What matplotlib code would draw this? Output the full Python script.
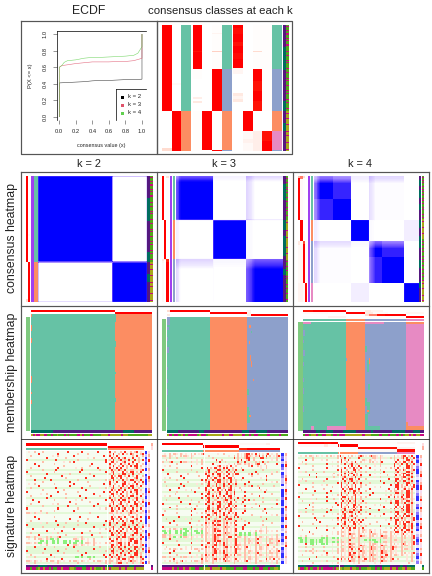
import numpy as np
import matplotlib
matplotlib.use("Agg")
import matplotlib.pyplot as plt
from matplotlib.colors import LinearSegmentedColormap, to_rgb

plt.rcParams["font.family"] = ["Liberation Sans", "DejaVu Sans"]

# ---------- data ----------
ecdf_x = {
    2: [0, 0, .1, .2, .3, .4, .5, .6, .7, .8, .9, .99, 1, 1],
    3: [0, 0, .03, .1, .2, .3, .4, .5, .6, .7, .8, .9, .97, 1, 1],
    4: [0, 0, .03, .06, .1, .2, .3, .4, .5, .6, .7, .8, .9, .95, 1, 1],
}
ecdf_y = {
    2: [0, .41, .415, .42, .425, .435, .44, .44, .445, .45, .45, .455, .455, 1],
    3: [0, .60, .62, .63, .645, .655, .665, .665, .665, .67, .67, .68, .70, .71, 1],
    4: [0, .60, .62, .66, .68, .69, .71, .72, .72, .725, .73, .735, .745, .77, .85, 1],
}
ecdf_labels = ["k = 2", "k = 3", "k = 4"]
ecdf_colors = {2: "#000000", 3: "#DF536B", 4: "#61D04F"}
titles_k = ["k = 2", "k = 3", "k = 4"]
row_titles = ["consensus heatmap", "membership heatmap", "signature heatmap"]

class_colors = {"1": "#66C2A5", "2": "#FC8D62", "3": "#8DA0CB", "4": "#E78AC3"}
anno_colors = {"P": "#54187F", "T": "#006D5F", "G": "#4FA81A", "O": "#A8A81A", "M": "#C8087F"}
sig_colors = {".": "#F6FCF1", ":": "#E3F8D6", "s": "#FFBFAA", "r": "#FF3020", "g": "#8CF07C", "p": "#FFE4D9",
              "B": "#3030FF", "b": "#8C78FF", "l": "#C8BEFF", "w": "#ECE8FF",
              "R": "#FF2A1A", "S": "#FFB0A0", "K": "#FFDCE0", "Y": "#F6DCF0", "W": "#FFFFFF"}

# class probabilities per sample, as (value, count) runs, top panel
top_k2 = [
    [(1, 86), (0, 37), (.3, 3)],
    [(0, 58), (.05, 2), (0, 26), (1, 40)],
]
top_k3 = [
    [(1, 26), (.85, 1), (1, 17), (.03, 10), (0, 18), (.15, 2), (0, 2), (.2, 2), (0, 8), (.02, 40)],
    [(0, 86), (1, 39), (0, 1)],
    [(.02, 8), (.1, 1), (.02, 17), (.35, 1), (.02, 17), (1, 42), (.02, 39), (1, 1)],
]
top_k4 = [
    [(1, 3), (.9, 6), (1, 8), (.85, 4), (1, 8), (.9, 6), (1, 9), (.08, 6), (0, 20), (.2, 3), (.1, 3), (.2, 3), (0, 10), (0, 40)],
    [(0, 86), (1, 20), (.06, 8), (.12, 4), (.05, 8)],
    [(.02, 26), (.3, 1), (.02, 17), (1, 12), (.85, 10), (1, 10), (.85, 10), (0, 20), (.15, 20)],
    [(.03, 44), (.03, 42), (0, 20), (.85, 10), (1, 10)],
]
cls_top_k2 = [("1", 86), ("2", 40)]
cls_top_k3 = [("1", 44), ("3", 42), ("2", 39), ("3", 1)]
cls_top_k4 = [("1", 44), ("3", 42), ("2", 20), ("4", 19), ("3", 1)]

anno_a_k2 = [("P", 22), ("T", 23), ("P", 31), ("T", 10), ("P", 12), ("T", 8), ("P", 20)]
anno_a_k3 = [("P", 8), ("T", 16), ("P", 20), ("T", 10), ("P", 6), ("T", 20), ("P", 13), ("T", 6), ("P", 27)]
anno_a_k4 = [("P", 4), ("T", 6), ("P", 4), ("T", 8), ("P", 6), ("T", 6), ("P", 10), ("T", 8), ("P", 8), ("T", 12),
             ("P", 12), ("T", 8), ("P", 14), ("T", 6), ("P", 14)]
anno_b_k2 = ("GMGGGMGGMMGGGMGMGGGMMGGGGGMGGGMGGGGMGMGGGGGMGGGMGGGGGMGMGGGGMGGGGMGGMGGGGGMGGMGGGGGMGG"
             "OOMOOOOMOOOOOMOOOOOOMOOOMOOOOOOMOOOOOOMO")
anno_b_k3 = ("GGMGGGMGGGGMGMGGMGGGGMGGGMGGGGGMGGMGGGGMGGGG"
             "OOMOOOOOOOMOOOOOOMOOOOOOOOMOOOOOMOOOOOO"
             "GMGGGGMGGGMGGGGGMGMGGGGGMGGGMGGGGMGGGGGMGG")
anno_b_k4 = ("GMGGMGMGGGMGGMGMGGMGGGGMGMGGMGGGMGMGGGGMGGMG"
             "OOMOOOOOMOOOOOMOOOOOO"
             "GGMGGMGGGMGGMGGGGMGGMGMGGGMGGGMGGGMGGMGGGMG"
             "OOMOOOOMOOOOOOMOOOOMO")

# consensus: group sizes, purity per sample, cross-group links
cons_k2_purity = [[(.82, 1), (1, 84), (.65, 1)], [(.7, 1), (1, 38), (.9, 1)]]
cons_k3_purity = [[(.6, 1), (.65, 1), (.72, 1), (.8, 1), (.9, 1), (.96, 1), (1, 37), (.8, 1)],
                  [(.78, 1), (1, 37), (.85, 1)],
                  [(.55, 1), (.58, 1), (.62, 1), (.66, 1), (.7, 1), (.74, 1), (.78, 1), (.84, 1), (.9, 1), (.96, 1), (1, 33)]]
cons_k4_purity = [[(.45, 1), (.5, 1), (.52, 1), (.6, 1), (.68, 1), (.78, 1), (.88, 1), (1, 37)],
                  [(.95, 1), (1, 19), (.95, 1)],
                  [(.5, 1), (.55, 1), (.6, 1), (.66, 1), (.72, 1), (.8, 1), (.88, 1), (1, 35)],
                  [(.9, 1), (1, 18)]]
cons_k2_links = [[0, 1.2], [1.2, 0]]
cons_k3_links = [[0, .12, .32], [.12, 0, .07], [.32, .07, 0]]
cons_k4_links = [[0, .12, .22, 0], [.12, 0, .05, 0], [.22, .05, 0, 0], [0, 0, 0, 0]]
cons_k4_const = [[0, 0, .012, 0], [0, 0, 0, .06], [.012, 0, 0, 0], [0, .06, 0, 0]]
cons_k4_sub = [[(0, 23), (1, 21)], [(0, 21)], [(0, 16), (1, 26)], [(0, 19)]]
cons_k4_subcross = [.8, 1, .82, 1]

# left annotation columns of the consensus row
cons_left_k2 = top_k2
cons_left_k3 = [
    [(1, 44), (0, 39), (.2, 2), (.1, 2), (.05, 39)],
    [(0, 44), (1, 39), (.25, 1), (0, 42)],
    [(.25, 2), (.02, 42), (0, 39), (.7, 3), (1, 40)],
]
cons_left_k4 = [
    [(.4, 2), (1, 42), (0, 21), (.2, 4), (.05, 38), (.1, 19)],
    [(.5, 3), (.05, 41), (1, 21), (.1, 42), (.12, 19)],
    [(.3, 2), (.02, 42), (0, 21), (.6, 3), (1, 39), (.05, 19)],
    [(0, 44), (0, 21), (.04, 42), (1, 19)],
]

# membership: class runs by column, then patches (row0, row1, col0, col1, class)
mem_k2_cols = [("1", 84), ("2", 37)]
mem_k2_rows = 117
mem_k2_patches = [(0, 3, 0, 1, "2"), (11, 17, 0, 1, "2"), (24, 29, 0, 1, "2"), (62, 69, 0, 1, "2"), (78, 80, 0, 1, "2"),
                  (86, 90, 0, 1, "2"), (27, 33, 84, 85, "1"), (58, 60, 84, 85, "1"), (84, 88, 84, 85, "1"), (0, 8, 84, 85, "1")]
mem_k3_cols = [("1", 43), ("2", 37), ("3", 41)]
mem_k3_rows = 114
mem_k3_patches = [(0, 8, 0, 3, "3"), (10, 13, 0, 2, "3"), (20, 24, 0, 1, "3"), (30, 36, 0, 2, "3"), (50, 53, 0, 1, "3"),
                  (62, 66, 0, 1, "3"), (72, 78, 0, 1, "3"), (90, 94, 0, 1, "3"),
                  (8, 11, 82, 84, "2"), (24, 27, 82, 83, "2"), (38, 44, 83, 84, "2"), (44, 50, 84, 85, "2"), (62, 64, 86, 87, "2"),
                  (72, 78, 80, 82, "1"), (90, 106, 80, 82, "1"), (94, 106, 82, 83, "1"), (14, 16, 84, 85, "1"), (98, 100, 82, 84, "2")]
mem_k4_cols = [("1", 43), ("2", 19), ("3", 41), ("4", 18)]
mem_k4_rows = 109
mem_k4_patches = [(0, 2, 0, 8, "4"), (0, 2, 62, 81, "4"), (0, 2, 103, 121, "2"), (104, 109, 24, 43, "4"), (104, 108, 8, 11, "4"),
                  (104, 109, 62, 77, "1"), (104, 109, 103, 121, "2"), (100, 104, 103, 105, "2"),
                  (8, 14, 0, 2, "3"), (18, 21, 0, 1, "3"), (28, 34, 0, 2, "3"), (40, 44, 0, 1, "3"), (56, 60, 0, 1, "3"),
                  (66, 72, 0, 1, "3"), (84, 90, 0, 1, "3"), (36, 39, 43, 44, "3"), (86, 88, 43, 44, "3"),
                  (24, 30, 62, 64, "1"), (38, 50, 64, 66, "1"), (62, 68, 65, 67, "1"), (76, 84, 62, 64, "1"), (80, 92, 64, 67, "1"),
                  (92, 104, 62, 65, "1"), (36, 42, 66, 67, "2"), (88, 90, 64, 66, "2")]
mem_top_k2 = [[(1, 84), (0, 37)], [(0, 84), (1, 37)]]
mem_top_k3 = [[(.3, 3), (1, 40), (0, 37), (.12, 4), (0, 37)],
              [(0, 43), (1, 37), (.15, 4), (0, 37)],
              [(.2, 3), (0, 40), (0, 37), (.2, 4), (1, 37)]]
mem_top_k4 = [[(.85, 10), (1, 33), (0, 19), (.2, 6), (.1, 12), (0, 23), (.02, 18)],
              [(.05, 25), (.02, 18), (1, 19), (.2, 8), (.05, 15), (0, 18), (.08, 18)],
              [(0, 43), (0, 19), (.3, 4), (.5, 8), (.85, 8), (1, 21), (0, 18)],
              [(.03, 25), (.12, 18), (0, 19), (.02, 41), (1, 18)]]
mem_anno_a_k2 = "TTTTTTTTTTTTPPPPPPPPPPPPPPPPPPPPPPPPPPPPPPPPPPPPPPTTTTTTPPPPPPPPPP"
mem_anno_b_k2 = "OMOMMOOMMGGMGGOGGGMGMGGGGMMOMGGGMMGGGGOOOOMOOOOOOMOOOGGGGGGGGGGGOO"
mem_anno_a_k3 = "TTTTTPPPPPPPPPTTPPPPPPPPPPPPPPPPPTTTPPPTTTTTPPPPPPPPP"
mem_anno_b_k3 = "OMGMMGOMGMMMMGOMMGOOOOOOMOOMMOOOOMGGMGMMGGGGMGGGGMGGG"
mem_anno_a_k4 = "PPPPPPTTPPPTTTPPPPPTTTTTTPPPPPPPTPPPPPPPPPTTTTTTPPPPTTTPP"
mem_anno_b_k4 = "GMMGOOMGGMMOOGMMGMMMOOOOOOOOMOOOGGGGMGGGMGGGMGMGOOMOMOOMM"

# signature heatmaps: each row is read as ten blocks, each block a cell pattern
# ("_" lets the row background show)
sig_blocks = {
    "0": "______", "1": "__s___", "2": "____r_", "3": "r_____", "4": "_p__s_", "5": "___r__",
    "6": "_s____", "7": "p____r", "8": "r__s__", "9": "_r_s_r", "a": "s_r__s", "b": "_sr_p_",
    "c": "r_s_r_", "d": "_rr_s_", "e": "s_p_sr", "f": "ssp_sp", "g": "_gg_g_", "h": "gg_pg_",
}
sig_k2_plan = [
    "4105203 8ab", "0320160 a9e", "1040305 c0a", "0201040 9b8", "3050102 ac9", "0104302 db8", "2010050 8ca",
    "0306010 a9d", "1020403 c8b", "0150206 9ae", "3010502 b9c", "0204010 ad8", "1003020 9ca", "0501030 d8b",
    "2030104 a9c", "0102060 cb9", "4010305 8da", "0302010 a9c", "1050204 bc8", "0106030 9ad", "3020105 c9b",
    "0401020 d8a", "1030506 a9c", "0201030 8cb", "5010402 9da", "0302010 bc9", "1040603 a8d", "0105020 c9a",
    "3020104 9bc", "0610300 d9a", "f400010 fef", "0000000 141", "2010503 9ac", "0302060 d8b", "1050102 a9c",
    "0401030 cb8", "3020105 8da", "0106020 bc9", "5010304 a9d", "0203010 c8a", "1040206 9bd", "0301050 dac",
    "f4e0401 ede", "4fh0f40 cec", "0gggg40 ded", "fhgghf4 ecd", "0405f40 dce", "2010306 9ad", "0501020 ac9",
    "3020104 d9a", "0106030 bcd", "1030205 cad", "4010gg2 9ec", "0203010 ede", "f4f4f4f fef", "4040104 e8e",
]
sig_k2_bg = "....:....:.:..:...:....:...:..:....:::..:.:....::::.:..:"
sig_k3_plan = [
    "4f4e 040 ece4", "f4f0 104 efce", "4140 402 e8d4", "1004 080 a804", "e2f4 0a0 c4a0", "0104 204 fe82", "4020 0ba 0a40",
    "0102 9c8 1040", "3040 bd9 5010", "0106 a8c 0204", "5010 cd9 3a06", "0201 db8 0120", "4030 9cd 5040", "0102 cda 1020",
    "6010 ada 0304", "0204 bc9 2010", "1030 dca 4a01", "0501 8db 6030", "2040 c9d 1040", "0103 abc 2050", "0602 dac 0106",
    "4010 ccd 2030", "0502 d9b 8010", "1040 aec 2804", "0201 dda 5010", "3050 cad 1402", "0106 bd9 2030", "2040 ddc 0106",
    "0103 d9a 4050", "6020 cab 2010", "0104 ec9 5020", "3020 dce 0104", "0502 8ac 3060", "1040 aed 1020", "0301 ede 4010",
    "2050 cfc 0306", "0104 ede 2010", "3020 fef 5040", "4fh4 efe 5040", "hggh ede 04f4", "gghg fef gh40",
    "f4h4 ede gh04", "fhf4 efd f4f4", "2040 efe 4e4f", "0104 ede 4f4e", "3020 dce 4e4f", "0502 ece f4e4",
    "1040 cec e4f1", "4f4f efe f4f4", "0301 ece 4f4e", "2050 ece 4e4f", "0104 cec f4f4", "f4f4 fef 4f4f",
    "0302 ece 4f2a", "4e4f fef e4f4", "0104 404 0404",
]
sig_k3_bg = "..:.:...::...:.::..:..::.:..:...:::..:...:.::.:...:.:..:"
sig_k4_plan = [
    "4f4e 4e ef0 ec", "0104 a2 0f4 e9", "2140 c0 f40 ad", "1004 8a 4e0 9c", "4020 a8 040 c9", "0104 2c 140 8d", "3020 a9 204 ad",
    "0102 8d 040 9e", "4010 ca 103 bd", "0201 a8 040 ec", "0304 c9 201 9d", "0201 ba 040 ec", "1020 9c 105 db", "4010 a8 020 9c",
    "0102 c9 403 ad", "3040 8a 102 d9", "0106 ca 040 de", "2010 9c 205 ac", "0503 ad 104 fd", "1020 c9 030 dd", "0104 8b 204 ed",
    "3020 da 105 cd", "0401 ca 020 ef", "1020 9b 304 dd", "0105 ca 102 dc", "0302 8d 040 ad", "0106 c9 103 9d", "2040 ba 204 cd",
    "0103 a9 050 ed", "4020 9c 104 dd", "0104 ba 203 ac", "3010 a8 040 9d", "0502 db 102 ce", "0204 cc 304 de", "1030 a9 010 9d",
    "0102 bd 405 9c", "3040 ca 120 ac", "0201 9d 304 9c", "1020 e4 f40 cd", "0304 f4 e4f dc", "0104 ef 4f4 e4",
    "4040 fe fef 4e", "h0gg 4f 44f 4e", "ggh4 e4 gh4 f4", "gghg f4 4gf 4e", "2gg4 ef 4f4 ee", "0104 fe fef 4f",
    "4010 ef efe f4", "0104 fc efe 4f", "4f14 fe fef 40", "0124 ed fef 4e", "1040 ef efd f4", "0201 fc fef 04",
    "0302 cf dfe 14", "1040 ef fef 04", "0104 04 040 01",
]
sig_k4_bg = ".:..:...:..:.::....:..:.:...::..:...:.....:::..:.:..:.:."
sig_right_k2 = ["BlBbBlBwBbBBlBBbBlBBlBbBBBlwBbBBlBbBlBwB", "KSYRKYSKYRSKYSRKYKRKYSKRYKSYKRSKKYSRKYKS"]
sig_right_k3 = ["BbBlBbwBbllBwBBBbBBlBBbBBlBlwBbBlwBbBBlB", "SKYSRKYKSRSKYRSKRKYRSKSRYKRKSYRKSRKYKSYK"]
sig_right_k4 = ["BbBlbBBlwBbBBlbBBwbBlbBBlBbBwlbBbwBlbBlb", "SYKRYKSRYKSRRYKSRKYRSKYRKSRYKSYRKYSKRYKS"]
sig_top_k2 = [[(1, 80), (0, 37)], [(0, 80), (1, 37)]]
sig_top_k3 = [[(1, 41), (0, 36), (.05, 27), (.15, 4), (0, 10)],
              [(0, 41), (1, 36), (0, 41)],
              [(0, 41), (0, 36), (.7, 8), (1, 33)]]
sig_top_k4 = [[(1, 26), (.9, 7), (1, 7), (0, 19), (.03, 39), (.1, 18)],
              [(.05, 26), (.2, 4), (.05, 10), (1, 19), (0, 39), (0, 18)],
              [(0, 40), (0, 19), (.85, 39), (.12, 18)],
              [(0, 40), (0, 19), (.05, 39), (.9, 18)]]
sig_anno_a_k2 = "PPPPPPTTTTTPPPPPPPPPPPPPPPTTTTTPPPPPPPPPPTTTTPPPPPPPPTTTPPPPP"
sig_anno_b_k2 = "MMGMMGOMMOMMGMGGMMOMMMGOOGMMMGGMMOMOGGGOMOOMOOOOMOOMOOOOMOOOO"
sig_anno_a_k3 = "PPPPPPPPPPPPPPPPPPPPPTTTPPPPPTTTTTTPPPPPPPPPTTTTTPPPPTTTPPPTT"
sig_anno_b_k3 = "MMMMMOMMGMMOMMOGGMMGGOOOOMOOOOMOOGGGGMGGGGMMGGGMGGMMGGGMGGOOG"
sig_anno_a_k4 = "TTTTPPPPTTTPPPPPTTTTPPPPTTTTTTPPPPPPPTTTPPPPTTTTPPPPPTTPPTTTT"
sig_anno_b_k4 = "OMMGOMGGMMOMGMMMMMGMOOOGOOOMOOGGMGGGOOGGMGGMGOOOMOOMGGOOMOOGG"

# ---------- drawing ----------
def expand(runs):
    out = []
    for v, n in runs:
        out.extend([v] * n)
    return out

fig = plt.figure(figsize=(6, 8), dpi=72)
ov = fig.add_axes([0, 0, 1, 1])
ov.axis("off")
white_red = LinearSegmentedColormap.from_list("wr", ["#FFFFFF", "#FFD9CC", "#FF2A10", "#FF0000"], N=64)
white_blue = LinearSegmentedColormap.from_list(
    "wb", [(0, "#FFFFFF"), (.25, "#C9B5FF"), (.55, "#7A5CFF"), (.85, "#2A1AFF"), (1, "#0000FF")], N=128)

def paint(m, x0, y0, x1, y1, cmap=None, vmin=0, vmax=1):
    ov.imshow(m, extent=(x0, x1, y1, y0), aspect="auto", interpolation="nearest",
              cmap=cmap, vmin=vmin, vmax=vmax, zorder=2)

def rgb(chars, table):
    return np.array([[to_rgb(table[c]) for c in row] for row in chars])

def vstrip(chars, table, x0, y0, x1, y1):
    paint(rgb([[c] for c in chars], table), x0, y0, x1, y1)

def hstrip(chars, table, x0, y0, x1, y1):
    paint(rgb([list(chars)], table), x0, y0, x1, y1)

def vprob(runs, x0, y0, x1, y1):
    paint(np.array(expand(runs), float)[:, None], x0, y0, x1, y1, cmap=white_red)

def hprob(runs, x0, y0, x1, y1):
    paint(np.array(expand(runs), float)[None, :], x0, y0, x1, y1, cmap=white_red)

# ECDF panel
ax = fig.add_axes([56.7 / 432, 1 - 120 / 576, 89 / 432, 89 / 576], zorder=3)
for k in (2, 3, 4):
    ax.plot(ecdf_x[k], ecdf_y[k], color=ecdf_colors[k], lw=.55, alpha=.85 if k > 2 else .75, solid_joinstyle="miter")
ax.set_xlim(-.031, 1.045)
ax.set_ylim(-.04, 1.04)
ax.spines["right"].set_visible(False)
ax.spines["bottom"].set_visible(False)
ax.spines["top"].set_linewidth(.7)
ax.spines["left"].set_linewidth(.7)
ax.set_xticks([0, .2, .4, .6, .8, 1])
ax.set_xticklabels(["0.0", "0.2", "0.4", "0.6", "0.8", "1.0"], fontsize=5.8, color="#222222")
ax.set_yticks([0, .2, .4, .6, .8, 1])
ax.set_yticklabels(["0.0", "0.2", "0.4", "0.6", "0.8", "1.0"], fontsize=5.8, rotation=90, va="center", color="#222222")
ax.tick_params(length=4, width=.5, pad=5, color="#333333")
ax.set_xlabel("consensus value (x)", fontsize=5.4, labelpad=9.5, color="#222222")
ax.set_ylabel("P(X <= x)", fontsize=5.8, labelpad=9.5, color="#222222")
ax.patch.set_alpha(0)

# frames
frame = "#555555"
for xa, xb in ((20.7, 156.7), (156.7, 292.2)):
    ov.plot([xa, xb, xb, xa, xa], [20.7, 20.7, 154, 154, 20.7], color=frame, lw=1.2, zorder=5)
for x in (20.7, 156.7, 292.7, 429.3):
    ov.plot([x, x], [172, 572.8], color=frame, lw=1.2, zorder=5)
for y in (172, 305.7, 572.8):
    ov.plot([20.7, 429.3], [y, y], color=frame, lw=1.2, zorder=5)
ov.plot([20.7, 429.3], [439, 439], color="#222222", lw=.8, zorder=5)

# legend of the ECDF
ov.plot([116.3, 145.7], [89, 89], color="black", lw=.7, zorder=6)
ov.plot([116.3, 116.3], [89, 120], color="black", lw=.7, zorder=6)
for lbl, k, y in zip(ecdf_labels, (2, 3, 4), (97, 104.5, 112.5)):
    ov.plot([122.3], [y], marker="s", ms=3, color=ecdf_colors[k], zorder=6, mew=0)
    ov.text(128, y, lbl, fontsize=6, va="center", ha="left", color="#222222", zorder=6)

# titles
ov.text(89, 11.5, "ECDF", fontsize=12.3, ha="center", va="center", color="#222222")
ov.text(220.5, 11.5, "consensus classes at each k", fontsize=11.4, ha="center", va="center", color="#222222")
for t, x in zip(titles_k, (88.7, 224.3, 360.5)):
    ov.text(x, 164, t, fontsize=11, ha="center", va="center", color="#222222")
for t, y in zip(row_titles, (238, 372.5, 505.5)):
    ov.text(12.5, y, t, fontsize=12.2, rotation=90, ha="center", va="center", color="#222222")

# consensus classes panel
TY0, TY1 = 24.7, 150.7
col_k2 = [(162, 172), (172, 181)]
col_k3 = [(193, 202.3), (202.3, 212), (212, 222)]
col_k4 = [(233, 243), (243, 252.5), (252.5, 262), (262, 272)]
for data, xs, cls, cx in ((top_k2, col_k2, cls_top_k2, (181, 191)),
                          (top_k3, col_k3, cls_top_k3, (222, 232)),
                          (top_k4, col_k4, cls_top_k4, (272, 282))):
    for runs, (a, b) in zip(data, xs):
        vprob(runs, a, TY0, b, TY1)
    vstrip(expand(cls), class_colors, cx[0], TY0, cx[1], TY1)
vstrip(expand(anno_a_k2), anno_colors, 283, TY0, 285.7, TY1)
vstrip(anno_b_k2, anno_colors, 286, TY0, 288.3, TY1)

# consensus heatmaps
def consensus(purity, links, const=None, sub=None, subcross=None):
    labels, p, subs = [], [], []
    for g, runs in enumerate(purity):
        vals = expand(runs)
        labels += [g] * len(vals)
        p += vals
        subs += expand(sub[g]) if sub else [0] * len(vals)
    p = np.array(p, float)
    labels = np.array(labels)
    subs = np.array(subs)
    n = len(p)
    m = np.zeros((n, n))
    for i in range(n):
        for j in range(n):
            a, b = labels[i], labels[j]
            if a == b:
                v = p[i] * p[j]
                if subs[i] != subs[j]:
                    v *= subcross[a]
            else:
                v = links[a][b] * ((1 - p[i]) + (1 - p[j]))
                if const:
                    v += const[a][b]
            m[i, j] = v
    return m

CY0, CY1 = 176, 302
cons_cls_k2 = cls_top_k2
cons_cls_k3 = [("1", 44), ("2", 39), ("3", 43)]
cons_cls_k4 = [("1", 44), ("2", 21), ("3", 42), ("4", 19)]
paint(consensus(cons_k2_purity, cons_k2_links), 38, CY0, 146.7, CY1, cmap=white_blue)
paint(consensus(cons_k3_purity, cons_k3_links), 176, CY0, 283, CY1, cmap=white_blue)
paint(consensus(cons_k4_purity, cons_k4_links, cons_k4_const, cons_k4_sub, cons_k4_subcross),
      314, CY0, 419.2, CY1, cmap=white_blue)
purple = {"x": "#A040F0"}
for runs, (a, b) in zip(cons_left_k2, ((26, 28), (28, 30))):
    vprob(runs, a, CY0, b, CY1)
hx = [(162, 164), (164, 166), (166, 168.3)]
for runs, (a, b) in zip(cons_left_k3, hx):
    vprob(runs, a, CY0, b, CY1)
hx = [(298, 300), (300, 302.7), (303, 305), (305, 307)]
for runs, (a, b) in zip(cons_left_k4, hx):
    vprob(runs, a, CY0, b, CY1)
for a, b in ((31, 33.6), (170, 172), (308, 310)):
    vstrip("x", purple, a, CY0, b, CY1)
vstrip(expand(cons_cls_k2), class_colors, 33.7, CY0, 37, CY1)
vstrip(expand(cons_cls_k3), class_colors, 173, CY0, 175, CY1)
vstrip(expand(cons_cls_k4), class_colors, 311, CY0, 313, CY1)
for a_runs, b_str, xa, xb in ((anno_a_k2, anno_b_k2, (147, 149.3), (149.7, 152)),
                              (anno_a_k3, anno_b_k3, (283, 285.3), (286, 288)),
                              (anno_a_k4, anno_b_k4, (419.3, 421.3), (421.7, 423.7))):
    vstrip(expand(a_runs), anno_colors, xa[0], CY0, xa[1], CY1)
    vstrip(b_str, anno_colors, xb[0], CY0, xb[1], CY1)

# membership heatmaps
def membership(cols, nrows, patches):
    row = expand(cols)
    m = [list(row) for _ in range(nrows)]
    for r0, r1, c0, c1, cl in patches:
        for r in range(r0, r1):
            for c in range(c0, c1):
                m[r][c] = cl
    return rgb(m, class_colors)

bar_green = {"x": "#7FC97F"}
paint(membership(mem_k2_cols, mem_k2_rows, mem_k2_patches), 31, 314, 152, 431)
paint(membership(mem_k3_cols, mem_k3_rows, mem_k3_patches), 167, 317, 288, 431)
paint(membership(mem_k4_cols, mem_k4_rows, mem_k4_patches), 303, 322, 424, 431)
vstrip("x", bar_green, 26, 317, 30, 431)
vstrip("x", bar_green, 162, 319, 166, 431)
vstrip("x", bar_green, 298, 322, 303, 431)
for i, runs in enumerate(mem_top_k2):
    hprob(runs, 31, 310 + 2 * i, 152, 312 + 2 * i)
for i, runs in enumerate(mem_top_k3):
    hprob(runs, 167, 310 + 2 * i, 288, 312 + 2 * i)
for i, runs in enumerate(mem_top_k4):
    hprob(runs, 303, 310 + 2 * i, 424, 312 + 2 * i)
hstrip(expand(mem_k4_cols), class_colors, 303, 319, 424, 321)
for a, b, x0, x1 in ((mem_anno_a_k2, mem_anno_b_k2, 31, 152), (mem_anno_a_k3, mem_anno_b_k3, 167, 288),
                     (mem_anno_a_k4, mem_anno_b_k4, 303, 424)):
    hstrip(a, anno_colors, x0, 431, x1, 433.3)
    hstrip(b, anno_colors, x0, 434, x1, 436)

# signature heatmaps
def sig_matrix(plan, bg):
    rows = []
    for i, line in enumerate(plan):
        cells = "".join(sig_blocks[c] for c in line.replace(" ", ""))
        rows.append([bg[i % len(bg)] if c == "_" else c for c in cells])
    return rows

paint(rgb(sig_matrix(sig_k2_plan, sig_k2_bg), sig_colors), 26, 451, 144, 564)
paint(rgb(sig_matrix(sig_k3_plan, sig_k3_bg), sig_colors), 162, 453, 280, 564)
paint(rgb(sig_matrix(sig_k4_plan, sig_k4_bg), sig_colors), 298, 455, 415, 564)
for x, y0 in ((106.5, 443), (203.5, 443), (338.5, 443)):
    ov.plot([x, x], [y0, 570], color="white", lw=.9, zorder=3)

for i, runs in enumerate(sig_top_k2):
    hprob(runs, 26, 443 + 3 * i, 144, 446 + 3 * i)
hstrip(expand([("1", 80), ("2", 37)]), class_colors, 26, 448.3, 144, 450)
for i, runs in enumerate(sig_top_k3):
    hprob(runs, 162, 443 + 2.7 * i, 280, 445.7 + 2.7 * i)
hstrip(expand([("1", 41), ("2", 36), ("3", 41)]), class_colors, 162, 450, 280, 452)
for i, runs in enumerate(sig_top_k4):
    hprob(runs, 298, 443 + 2.2 * i, 415, 445.2 + 2.2 * i)
hstrip(expand([("1", 40), ("2", 19), ("3", 39), ("4", 18)]), class_colors, 298, 452.5, 415, 454.5)

for col, (xa, ya) in zip((sig_right_k2, sig_right_k3, sig_right_k4), (((145, 147), 451), ((281, 284), 453), ((416, 419), 455))):
    vstrip(col[0], sig_colors, xa[0], ya, xa[1], 564)
    vstrip(col[1], sig_colors, xa[1] + 1, ya, xa[1] + 3, 564)
for a, b, x0, x1 in ((sig_anno_a_k2, sig_anno_b_k2, 26, 144), (sig_anno_a_k3, sig_anno_b_k3, 162, 280),
                     (sig_anno_a_k4, sig_anno_b_k4, 298, 415)):
    hstrip(a, anno_colors, x0, 565, x1, 567)
    hstrip(b, anno_colors, x0, 567.3, x1, 570)
vstrip("SK", sig_colors, 151, 443, 152.3, 450)
vstrip("PM", anno_colors, 151, 565, 152.3, 570)
vstrip("KS", sig_colors, 422, 443, 424, 450)
vstrip("TG", anno_colors, 422, 565, 424, 570)

ov.set_xlim(0, 432)
ov.set_ylim(576, 0)
fig.savefig("out.png", dpi=72)
